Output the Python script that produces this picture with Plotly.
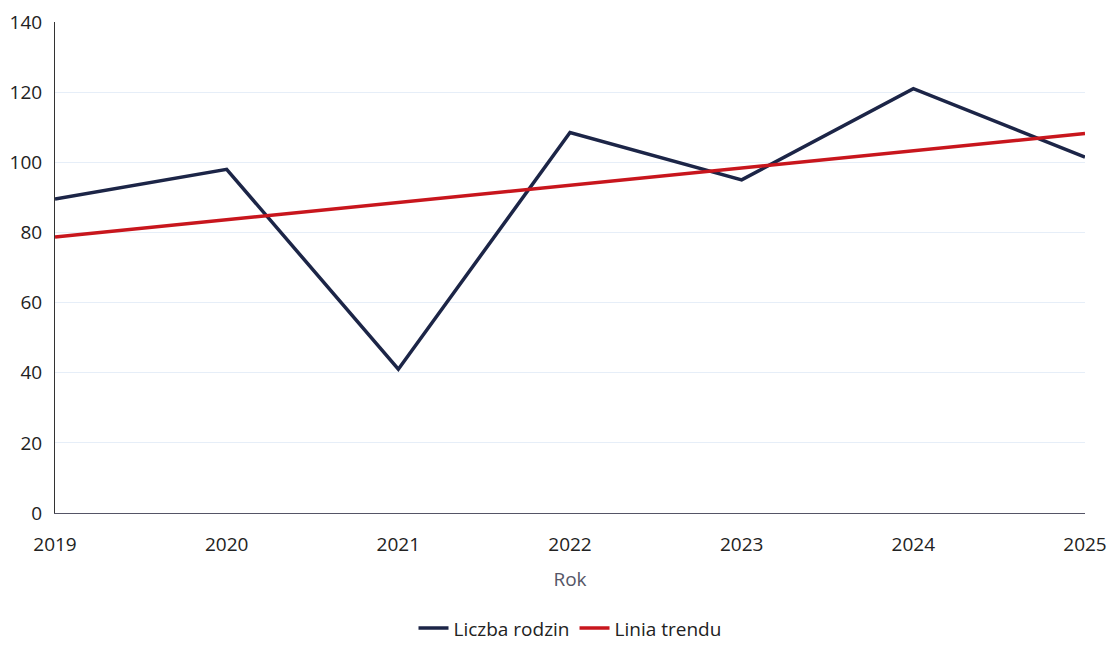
import plotly.graph_objects as go

# data
years = [2019, 2020, 2021, 2022, 2023, 2024, 2025]
families = [89.5, 98, 41, 108.5, 95, 121, 101.5]
trend_years = [2019, 2025]
trend_values = [78.7, 108.2]
y_ticks = [0, 20, 40, 60, 80, 100, 120, 140]

NAVY = "#1c2547"
RED = "#c8161d"
FONT = "Open Sans, sans-serif"

fig = go.Figure()

fig.add_trace(go.Scatter(
    x=years, y=families, mode="lines", name="Liczba rodzin",
    line=dict(color=NAVY, width=3.5),
))
fig.add_trace(go.Scatter(
    x=trend_years, y=trend_values, mode="lines", name="Linia trendu",
    line=dict(color=RED, width=3.5),
))

fig.update_layout(
    width=1111, height=645,
    margin=dict(l=55, r=26, t=22, b=132),
    paper_bgcolor="white", plot_bgcolor="white",
    font=dict(family=FONT, size=19, color="#222222"),
    legend=dict(
        orientation="h", x=0.5, xanchor="center",
        yref="container", y=0.026, yanchor="middle",
        font=dict(size=19, color="#222222"), itemwidth=30,
        tracegroupgap=0,
    ),
    xaxis=dict(
        range=[2019, 2025], tickmode="array", tickvals=years,
        ticktext=[str(y) for y in years],
        showgrid=False, zeroline=False, automargin=False,
        showline=True, linecolor="#555566", linewidth=1,
        ticks="", ticklabelstandoff=14,
        title=dict(text="Rok", font=dict(size=19, color="#555566"), standoff=16),
    ),
    yaxis=dict(
        range=[0, 140], tickmode="array", tickvals=y_ticks,
        showgrid=True, gridcolor="#e6eef8", gridwidth=1, automargin=False,
        zeroline=False, showline=True, linecolor="#333333", linewidth=1,
        ticks="", ticklabelstandoff=8,
    ),
)

# drop the default page margin so the 1111x645 figure fills the window exactly
fig.write_html(
    "out.html",
    config={"displayModeBar": False},
    post_script="document.body.style.margin = '0';",
)
